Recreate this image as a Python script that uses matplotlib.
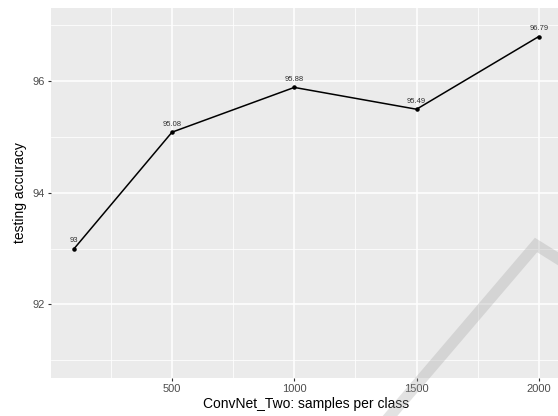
import matplotlib
matplotlib.use("Agg")
import matplotlib.pyplot as plt
from matplotlib.lines import Line2D

plt.rcParams['font.family'] = ['Liberation Sans', 'DejaVu Sans']

samples = [100, 500, 1000, 1500, 2000]
accuracy = [93.0, 95.08, 95.88, 95.49, 96.79]
acc_labels = ["93", "95.08", "95.88", "95.49", "96.79"]
x_ticks = [500, 1000, 1500, 2000]
y_ticks = [92, 94, 96]
x_minor = [250, 750, 1250, 1750]
y_minor = [91, 93, 95, 97]

W, H = 558, 416
fig = plt.figure(figsize=(W / 100, H / 100), dpi=100)
ax = fig.add_axes([51 / W, (H - 377.7) / H, (562 - 51) / W, (377.7 - 8) / H])
ax.set_facecolor('#EBEBEB')
for s in ax.spines.values():
    s.set_visible(False)

ax.set_xlim(5, 2095)
ax.set_ylim(90.69, 97.30)
ax.set_xticks(x_ticks)
ax.set_yticks(y_ticks)
ax.set_xticks(x_minor, minor=True)
ax.set_yticks(y_minor, minor=True)
ax.grid(True, which='major', color='white', linewidth=1.1)
ax.grid(True, which='minor', color='white', linewidth=0.55)
ax.set_axisbelow(True)
ax.tick_params(which='major', length=2.5, width=0.8, color='#333333',
               labelsize=8, labelcolor='#4D4D4D', pad=2)
ax.tick_params(which='minor', length=0)

ax.plot(samples, accuracy, color='black', linewidth=1.1, zorder=3)
ax.scatter(samples, accuracy, color='black', s=5, zorder=4)
for xv, yv, lab in zip(samples, accuracy, acc_labels):
    ax.annotate(lab, (xv, yv), xytext=(0, 3), textcoords='offset points',
                ha='center', va='bottom', fontsize=5.5, color='#333333', zorder=5)

ax.set_xlabel('ConvNet_Two: samples per class', fontsize=10, color='black', labelpad=2)
ax.set_ylabel('testing accuracy', fontsize=10, color='black', labelpad=4)

# faint watermark stroke in the lower right corner
wm = Line2D([390 / W, 536 / W, 600 / W], [0 / H, (H - 245) / H, (H - 285) / H],
            transform=fig.transFigure, color='#A0A0A0', alpha=0.3,
            linewidth=8, solid_joinstyle='miter', zorder=10)
fig.add_artist(wm)

fig.savefig('out.png', dpi=100)
